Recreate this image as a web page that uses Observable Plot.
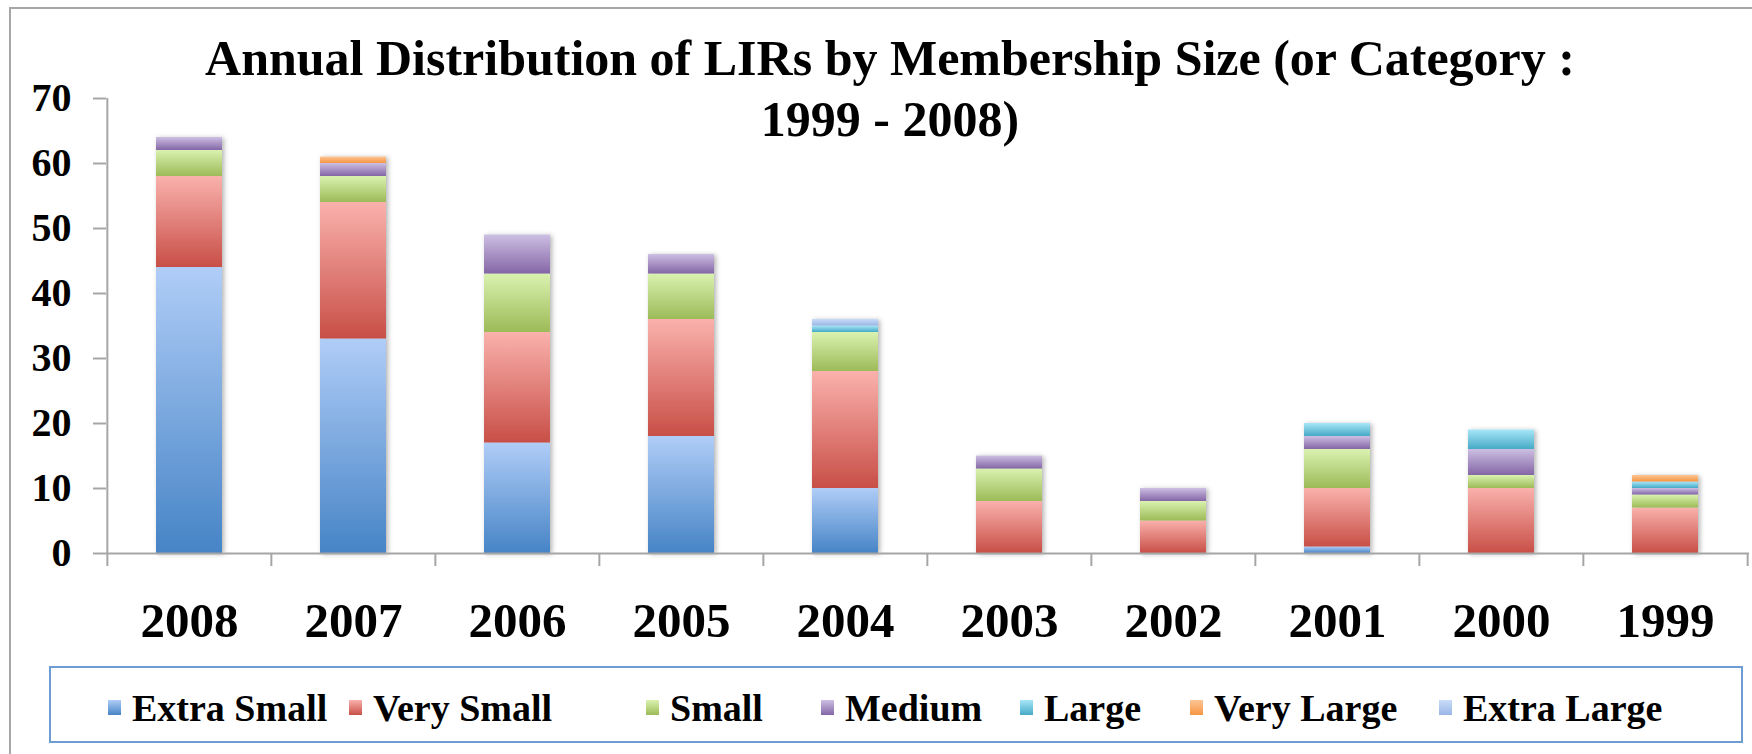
<!DOCTYPE html>
<html><head><meta charset="utf-8">
<script src="https://cdn.jsdelivr.net/npm/d3@7"></script>
<script src="https://cdn.jsdelivr.net/npm/@observablehq/plot@0.6"></script>
<style>
body{margin:0;background:#fff;width:1752px;height:754px;overflow:hidden;position:relative;font-family:"Liberation Serif",serif;}
#frame{position:absolute;left:9px;top:7px;width:1800px;height:800px;border-left:2px solid #a6a6a6;border-top:2px solid #a6a6a6;}
#chart{position:absolute;left:0;top:60px;}
#title{position:absolute;left:0;top:28px;width:1780px;text-align:center;font-weight:bold;font-size:50px;line-height:61px;z-index:2;color:#000;}
#legend{position:absolute;left:49px;top:666px;width:1690px;height:73px;border:2px solid #6d9dd3;}
.sw{position:absolute;width:13px;height:15px;top:32px;}
.lt{position:absolute;top:21px;font-size:38px;line-height:38px;font-weight:bold;white-space:nowrap;color:#000;}
</style></head>
<body>
<div id="frame"></div>
<div id="chart"></div>
<div id="title">Annual Distribution of LIRs by Membership Size (or Category :<br>1999 - 2008)</div>
<div id="legend"></div>
<script>
const years = ["2008","2007","2006","2005","2004","2003","2002","2001","2000","1999"];
const series = ["Extra Small","Very Small","Small","Medium","Large","Very Large","Extra Large"];
const extraSmall = [44,33,17,18,10,0,0,1,0,0];
const verySmall  = [14,21,17,18,18,8,5,9,10,7];
const small      = [4,4,9,7,6,5,3,6,2,2];
const medium     = [2,2,6,3,0,2,2,2,4,1];
const large      = [0,0,0,0,1,0,0,2,3,1];
const veryLarge  = [0,1,0,0,0,0,0,0,0,1];
const extraLarge = [0,0,0,0,1,0,0,0,0,0];
const yTicks = [0,10,20,30,40,50,60,70];
const gradients = [
  ["#b0cdf7","#4684c6"],
  ["#fab1ac","#c84f47"],
  ["#daf2b0","#9cbb58"],
  ["#cdbfe3","#8466a6"],
  ["#a8e6f8","#46aac6"],
  ["#fdc594","#f79544"],
  ["#c9dcf9","#9ab6e6"]
];
const legendX = [108,349,646,821,1020,1190,1439];

const valuesBySeries = [extraSmall,verySmall,small,medium,large,veryLarge,extraLarge];
const data = years.flatMap((yr,i)=>series.map((s,j)=>({year:yr, series:s, value:valuesBySeries[j][i]}))).filter(d=>d.value>0);

const W=1752, H=588, mL=106, mR=3, mT=38, mB=95;
const step=(W-mL-mR)/years.length;
const axisColor="#a6a6a6";

const svg = Plot.plot({
  width:W, height:H, marginLeft:mL, marginRight:mR, marginTop:mT, marginBottom:mB,
  x:{domain:years, paddingInner:0.595, paddingOuter:0.2975},
  y:{domain:[0,70]},
  color:{domain:series, range:series.map((s,i)=>`url(#grad${i})`)},
  style:{fontFamily:"'Liberation Serif', serif", fontWeight:"bold", color:"black", background:"transparent", overflow:"visible"},
  marks:[
    Plot.barY(data, Plot.stackY({x:"year", y:"value", fill:"series"})),
    Plot.ruleY([0], {stroke:axisColor, strokeWidth:2}),
    Plot.ruleX([years[0]], {x:d=>d, dx:-step/2, y1:0, y2:70, stroke:axisColor, strokeWidth:2}),
    Plot.ruleX(years, {x:d=>d, dx:-step/2, y1:0, y2:-2, stroke:axisColor, strokeWidth:2}),
    Plot.ruleX([years[years.length-1]], {x:d=>d, dx:step/2, y1:0, y2:-2, stroke:axisColor, strokeWidth:2}),
    Plot.axisY({ticks:yTicks, tickSize:13, tickPadding:22, stroke:axisColor, strokeWidth:2, fontSize:40, fill:"black", label:null}),
    Plot.axisX({tickSize:0, tickPadding:49, fontSize:49, fill:"black", label:null})
  ]
});

const sel = d3.select(svg);
const defs = sel.insert("defs", ":first-child");
gradients.forEach(([a,b],i)=>{
  const g = defs.append("linearGradient").attr("id","grad"+i).attr("x1",0).attr("y1",0).attr("x2",0).attr("y2",1);
  g.append("stop").attr("offset","0%").attr("stop-color",a);
  g.append("stop").attr("offset","100%").attr("stop-color",b);
});
const f = defs.append("filter").attr("id","shadow").attr("x","-20%").attr("y","-5%").attr("width","140%").attr("height","110%");
f.append("feDropShadow").attr("dx",2).attr("dy",1).attr("stdDeviation",2.5).attr("flood-color","#000").attr("flood-opacity",0.3);
sel.select('g[aria-label="bar"]').attr("filter","url(#shadow)");
document.getElementById("chart").appendChild(svg);

const legend = document.getElementById("legend");
series.forEach((s,i)=>{
  const sw = document.createElement("div");
  sw.className="sw";
  sw.style.left=(legendX[i]-51)+"px";
  sw.style.background=`linear-gradient(${gradients[i][0]}, ${gradients[i][1]})`;
  legend.appendChild(sw);
  const t = document.createElement("div");
  t.className="lt";
  t.style.left=(legendX[i]-51+24)+"px";
  t.textContent=s;
  legend.appendChild(t);
});
</script>
</body></html>
